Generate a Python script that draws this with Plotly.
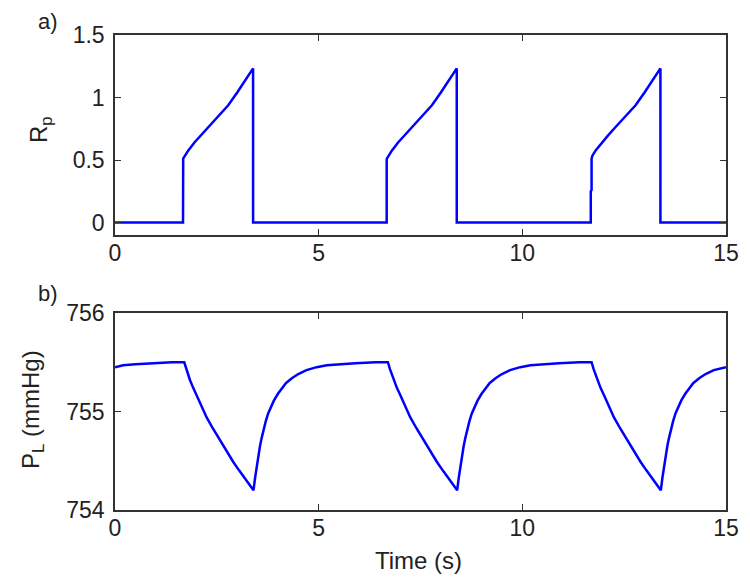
import plotly.graph_objects as go
from plotly.subplots import make_subplots

# Panel a) Rp
rp_time = [0, 1.67, 1.674, 1.72, 1.80, 1.95, 2.1, 2.29, 2.5, 2.78, 3.0, 3.2, 3.39, 3.39,
           6.67, 6.67, 6.674, 6.72, 6.80, 6.95, 7.1, 7.29, 7.5, 7.78, 8.0, 8.2, 8.39, 8.39,
           11.68, 11.68, 11.70, 11.70, 11.72, 11.80, 11.95, 12.1, 12.29, 12.5, 12.78, 13.0, 13.2, 13.39, 13.39, 15]
rp_vals = [0, 0, 0.511, 0.535, 0.577, 0.64, 0.695, 0.764, 0.84, 0.938, 1.04, 1.14, 1.233, 0,
           0, 0.50, 0.511, 0.535, 0.577, 0.64, 0.695, 0.764, 0.84, 0.938, 1.04, 1.14, 1.233, 0,
           0, 0.25, 0.26, 0.511, 0.535, 0.577, 0.64, 0.695, 0.764, 0.84, 0.938, 1.04, 1.14, 1.233, 0, 0]

# Panel b) PL
pl_time = [0, 0.2, 0.5, 0.9, 1.4, 1.7,
           1.75, 1.8, 1.84, 1.92, 2.0, 2.1, 2.25, 2.4, 2.6, 2.75, 2.9, 3.05, 3.2, 3.3, 3.4,
           3.44, 3.48, 3.52, 3.56, 3.6, 3.65, 3.7, 3.76, 3.83, 3.9, 4.0, 4.1, 4.2, 4.35, 4.5, 4.7, 4.95, 5.2, 5.5, 5.9, 6.4, 6.7,
           6.75, 6.8, 6.84, 6.92, 7.0, 7.1, 7.25, 7.4, 7.6, 7.75, 7.9, 8.05, 8.2, 8.3, 8.4,
           8.44, 8.48, 8.52, 8.56, 8.6, 8.65, 8.7, 8.76, 8.83, 8.9, 9.0, 9.1, 9.2, 9.35, 9.5, 9.7, 9.95, 10.2, 10.5, 10.9, 11.4, 11.7,
           11.75, 11.8, 11.84, 11.92, 12.0, 12.1, 12.25, 12.4, 12.6, 12.75, 12.9, 13.05, 13.2, 13.3, 13.4,
           13.44, 13.48, 13.52, 13.56, 13.6, 13.65, 13.7, 13.76, 13.83, 13.9, 14.0, 14.1, 14.2, 14.35, 14.5, 14.7, 15.0]
pl_vals = [755.45, 755.47, 755.48, 755.49, 755.50, 755.50,
           755.43, 755.37, 755.32, 755.24, 755.17, 755.08, 754.94, 754.83, 754.69, 754.59, 754.49, 754.40, 754.31, 754.26, 754.20,
           754.33, 754.45, 754.56, 754.65, 754.73, 754.82, 754.90, 754.98, 755.05, 755.11, 755.18, 755.24, 755.29, 755.34, 755.38, 755.42, 755.45, 755.47, 755.48, 755.49, 755.50, 755.50,
           755.43, 755.37, 755.32, 755.24, 755.17, 755.08, 754.94, 754.83, 754.69, 754.59, 754.49, 754.40, 754.31, 754.26, 754.20,
           754.33, 754.45, 754.56, 754.65, 754.73, 754.82, 754.90, 754.98, 755.05, 755.11, 755.18, 755.24, 755.29, 755.34, 755.38, 755.42, 755.45, 755.47, 755.48, 755.49, 755.50, 755.50,
           755.43, 755.37, 755.32, 755.24, 755.17, 755.08, 754.94, 754.83, 754.69, 754.59, 754.49, 754.40, 754.31, 754.26, 754.20,
           754.33, 754.45, 754.56, 754.65, 754.73, 754.82, 754.90, 754.98, 755.05, 755.11, 755.18, 755.24, 755.29, 755.34, 755.38, 755.42, 755.45]

x_ticks = [0, 5, 10, 15]
rp_ticks = [0, 0.5, 1, 1.5]
rp_ticktext = ["0", "0.5", "1", "1.5"]
pl_ticks = [754, 755, 756]

W, H = 750, 581
ml, mr, mt, mb = 115, 24, 35, 71
pw = W - ml - mr
ph = H - mt - mb
FONT = "Liberation Sans, Arial"
TXT = "#222222"

fig = make_subplots(rows=2, cols=1)
line = dict(color="#0000FF", width=2.5)
fig.add_trace(go.Scatter(x=rp_time, y=rp_vals, mode="lines", line=line, showlegend=False,
                         hoverinfo="skip"), row=1, col=1)
fig.add_trace(go.Scatter(x=pl_time, y=pl_vals, mode="lines", line=line, showlegend=False,
                         hoverinfo="skip"), row=2, col=1)

ax_common = dict(showline=True, linecolor="#333333", linewidth=1.5, mirror="ticks",
                 ticks="inside", ticklen=6, tickwidth=1, tickcolor="#333333",
                 showgrid=False, zeroline=False, automargin=False,
                 tickfont=dict(family=FONT, size=23, color=TXT))

fig.update_xaxes(range=[0, 15], tickvals=x_ticks, ticklabelstandoff=-3, **ax_common)
fig.update_yaxes(ticklabelstandoff=4, **ax_common)

# page-pixel positions of the panel edges
top_bottom_px = 235
bot_top_px = 313
bottom_px = H - mb
fig.update_layout(
    xaxis=dict(domain=[0, 1]),
    xaxis2=dict(domain=[0, 1]),
    yaxis=dict(domain=[(bottom_px - top_bottom_px) / ph, 1.0], range=[-0.1, 1.5], tickvals=rp_ticks,
               ticktext=rp_ticktext),
    yaxis2=dict(domain=[0, (bottom_px - bot_top_px) / ph], range=[754, 756], tickvals=pl_ticks),
    width=W, height=H,
    margin=dict(l=ml, r=mr, t=mt, b=mb),
    paper_bgcolor="white", plot_bgcolor="white",
    hovermode=False,
)

def px_ann(text, px, py, size=24, angle=0):
    fig.add_annotation(text=text, x=(px - ml) / pw, y=(bottom_px - py) / ph,
                       xref="paper", yref="paper", showarrow=False, textangle=angle,
                       xanchor="center", yanchor="middle",
                       font=dict(family=FONT, size=size, color=TXT))

px_ann("a)", 48, 21, size=22)
px_ann("b)", 48, 293, size=22)
px_ann("R<sub>p</sub>", 40, 130, angle=-90)
px_ann("P<sub>L</sub> (mmHg)", 32, 410, angle=-90)
px_ann("Time (s)", 418, 560)

fig.write_html("out.html",
               config={"displayModeBar": False},
               post_script="document.documentElement.style.margin='0';"
                           "document.body.style.margin='0';"
                           "document.body.style.overflow='hidden';")
